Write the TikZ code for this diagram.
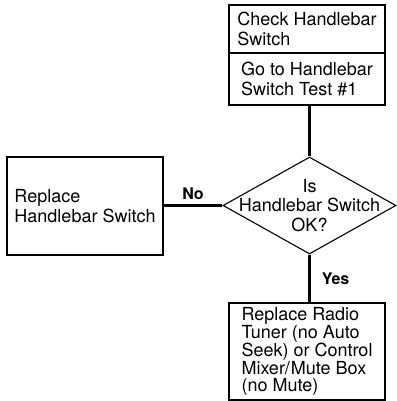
\documentclass[tikz,border=0pt]{standalone}
\usepackage{fontspec}
\setmainfont{TeX Gyre Heros}
\usetikzlibrary{shapes.geometric}

\begin{document}
\begin{tikzpicture}[x=1pt,y=-1pt,
    box/.style={draw,line width=1.1pt,rectangle,minimum width=156pt,inner sep=0pt,align=left,font=\fontsize{18}{19.5}\selectfont},
    decision/.style={draw,line width=1.1pt,diamond,minimum width=173pt,minimum height=97pt,inner sep=0pt},
    link/.style={line width=2.2pt},
    answer/.style={font=\fontsize{16}{18}\selectfont\bfseries}]
    
    \useasboundingbox (0,0) rectangle (396,401);
    
    %Boxes
    \node[box,minimum height=48pt] (check) at (307,29) {Check Handlebar\\Switch};
    \node[box,minimum height=52pt] (goto) at (307,79) {Go to Handlebar\\Switch Test \#1};
    \node[decision,label={[align=center,font=\fontsize{18}{19.5}\selectfont]center:Is\\Handlebar Switch\\OK?}] (ok) at (309.5,205.5) {};
    \node[box,minimum height=98pt] (replace) at (85,206) {Replace\\Handlebar Switch};
    \node[box,minimum height=97pt,font=\fontsize{18}{17.9}\selectfont] (tuner) at (307,351.5) {Replace Radio\\Tuner (no Auto\\Seek) or Control\\Mixer/\kern1pt Mute Box\\(no Mute)};
    
    %Links
    \draw[link] (ok.north |- goto.south) -- (ok.north);
    \draw[link] (ok.west) -- (replace.east |- ok.west) node[answer,midway,above=1pt] (no) {No};
    \draw[link] (ok.south) -- (ok.south |- tuner.north) node[answer,midway,right=8pt] (yes) {Yes};
    
\end{tikzpicture}
\end{document}
